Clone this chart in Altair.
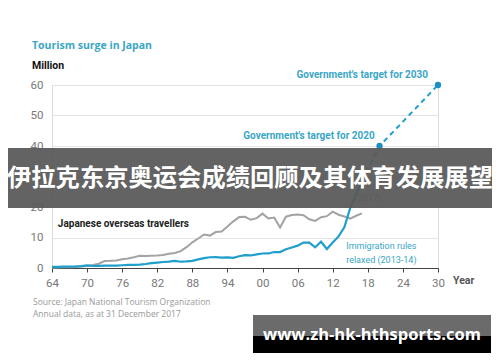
import altair as alt
import pandas as pd

years = list(range(1964, 2018))
inbound = [0.35, 0.37, 0.43, 0.48, 0.52, 0.61, 0.85, 0.66, 0.72, 0.78,
           0.76, 0.81, 0.91, 1.03, 1.04, 1.11, 1.32, 1.58, 1.79, 1.97,
           2.11, 2.33, 2.06, 2.16, 2.36, 2.84, 3.24, 3.53, 3.58, 3.41,
           3.47, 3.35, 3.84, 4.22, 4.11, 4.44, 4.76, 4.77, 5.24, 5.21,
           6.14, 6.73, 7.33, 8.35, 8.35, 6.79, 8.61, 6.22, 8.36, 10.36,
           13.41, 19.74, 24.04, 28.69]
outbound = [0.13, 0.16, 0.21, 0.27, 0.34, 0.49, 0.66, 0.96, 1.39, 2.29,
            2.34, 2.47, 2.85, 3.15, 3.53, 4.04, 3.91, 4.01, 4.09, 4.23,
            4.66, 4.95, 5.52, 6.83, 8.43, 9.66, 10.99, 10.63, 11.79, 11.93,
            13.58, 15.30, 16.69, 16.80, 15.81, 16.36, 17.82, 16.22, 16.52, 13.30,
            16.83, 17.40, 17.53, 17.29, 15.99, 15.45, 16.64, 16.99, 18.49, 17.47,
            16.90, 16.21, 17.12, 17.89]
target_years = [2017, 2020, 2030]
target_values = [28.69, 40, 60]
y_ticks = [0, 10, 20, 30, 40, 50, 60]
x_ticks = [1964, 1970, 1976, 1982, 1988, 1994, 2000, 2006, 2012, 2018, 2024, 2030]

BLUE = "#1f9fcc"
TEAL = "#3aa6c6"
GREY = "#a3a3a3"
FONT = "Roboto"

df = pd.DataFrame({"year": years, "inbound": inbound, "outbound": outbound})
tdf = pd.DataFrame({"year": target_years, "value": target_values})

xs = alt.Scale(domain=[1964, 2030], nice=False, zero=False)
ys = alt.Scale(domain=[0, 60], nice=False)

xaxis = alt.Axis(values=x_ticks, labelExpr="substring(toString(datum.value), 2)",
                 title=None, grid=False, domainColor="#444", tickColor="#444",
                 tickSize=4, labelColor="#777", labelFontSize=11.5, labelFont=FONT,
                 labelPadding=5, domainWidth=1.2, labelOverlap=False,
                 labelFlush=False)
yaxis = alt.Axis(values=y_ticks, title=None, grid=True, gridColor="#e3e3e3",
                 domain=False, ticks=False, labelColor="#777", labelFontSize=11.5,
                 labelFont=FONT, labelPadding=9, labelOverlap=False)

base = alt.Chart(df)
grey_line = base.mark_line(color=GREY, strokeWidth=2).encode(
    x=alt.X("year:Q", scale=xs, axis=xaxis),
    y=alt.Y("outbound:Q", scale=ys, axis=yaxis))
blue_line = base.mark_line(color=BLUE, strokeWidth=2.2).encode(
    x=alt.X("year:Q", scale=xs, axis=xaxis), y=alt.Y("inbound:Q", scale=ys, axis=yaxis))

proj = alt.Chart(tdf).mark_line(color=BLUE, strokeWidth=2, strokeDash=[5, 4]).encode(
    x=alt.X("year:Q", scale=xs, axis=xaxis), y=alt.Y("value:Q", scale=ys, axis=yaxis))
dots = alt.Chart(tdf[tdf.year > 2017]).mark_circle(color="#1b8fc2", size=40, opacity=1).encode(
    x=alt.X("year:Q", scale=xs, axis=xaxis), y=alt.Y("value:Q", scale=ys, axis=yaxis))

ann = pd.DataFrame({
    "year": [2028.3, 2019.2, 1965.0, 2014.3, 2014.3, 2018.0],
    "value": [63.3, 43.3, 14.4, 7.2, 2.6, 22.8],
    "label": ["Government's target for 2030", "Government's target for 2020",
              "Japanese overseas travellers", "Immigration rules",
              "relaxed (2013-14)", "(2017)"],
    "align": ["right", "right", "left", "left", "left", "center"],
    "color": [TEAL, TEAL, "#222", TEAL, TEAL, "#888"],
    "weight": ["bold", "bold", "bold", "normal", "normal", "normal"],
    "size": [10, 10, 10, 9, 9, 9],
})

def ann_layer(i):
    r = ann.iloc[[i]]
    return alt.Chart(r).mark_text(align=r["align"].iloc[0], baseline="middle",
                                  font=FONT, fontSize=float(r["size"].iloc[0]),
                                  fontWeight=r["weight"].iloc[0],
                                  color=r["color"].iloc[0], clip=False).encode(
        x=alt.X("year:Q", scale=xs, axis=xaxis), y=alt.Y("value:Q", scale=ys, axis=yaxis),
        text="label:N")

ann_layers = [ann_layer(i) for i in range(len(ann))]

def txt(s, x, y, **kw):
    return alt.Chart(pd.DataFrame({"t": [s]})).mark_text(**kw).encode(
        x=alt.value(x), y=alt.value(y), text="t:N")

title = txt("Tourism surge in Japan", -20, -39, align="left", baseline="middle",
            font="Open Sans", fontSize=10.5, fontWeight="bold", color=TEAL)
million = txt("Million", -20, -19, align="left", baseline="middle",
              font=FONT, fontSize=10.5, fontWeight="bold", color="#111")
year_lbl = txt("Year", 401, 196, align="left", baseline="middle",
               font=FONT, fontSize=10.5, fontWeight="bold", color="#555")
src1 = txt("Source: Japan National Tourism Organization", -19, 217, align="left",
           baseline="middle", font="Open Sans", fontSize=8.5, color="#999")
src2 = txt("Annual data, as at 31 December 2017", -19, 229, align="left",
           baseline="middle", font="Open Sans", fontSize=8.5, color="#999")

band = alt.Chart(pd.DataFrame({"a": [1]})).mark_rect(color="#575757", opacity=0.93).encode(
    x=alt.value(-44), x2=alt.value(448), y=alt.value(63), y2=alt.value(123))
band_txt = txt("伊拉克东京奥运会成绩回顾及其体育发展展望", 198, 94, align="center",
               baseline="middle", font="Noto Sans CJK SC", fontSize=24.3,
               fontWeight="bold", color="white")
box1 = alt.Chart(pd.DataFrame({"a": [1]})).mark_rect(color="#6b6b6b").encode(
    x=alt.value(201), x2=alt.value(439), y=alt.value(230), y2=alt.value(251))
box2 = alt.Chart(pd.DataFrame({"a": [1]})).mark_rect(color="#000000").encode(
    x=alt.value(201), x2=alt.value(439), y=alt.value(251), y2=alt.value(268))
box_txt = txt("www.zh-hk-hthsports.com", 320, 250, align="center", baseline="middle",
              font="Open Sans", fontSize=16.5, fontWeight="bold", color="white")

chart = alt.layer(
    grey_line, blue_line, proj, dots, *ann_layers,
    title, million, year_lbl, src1, src2,
    band, band_txt, box1, box2, box_txt
).properties(
    width=386, height=183,
    padding={"left": 44, "top": 77, "right": 54, "bottom": 86},
    autosize=alt.AutoSizeParams(type="none"),
).configure_view(stroke=None).configure_axis(
    labelOverlap=False, labelFlush=False
).configure(background="white")

chart.save("out.html", embed_options={"renderer": "svg", "actions": False})
